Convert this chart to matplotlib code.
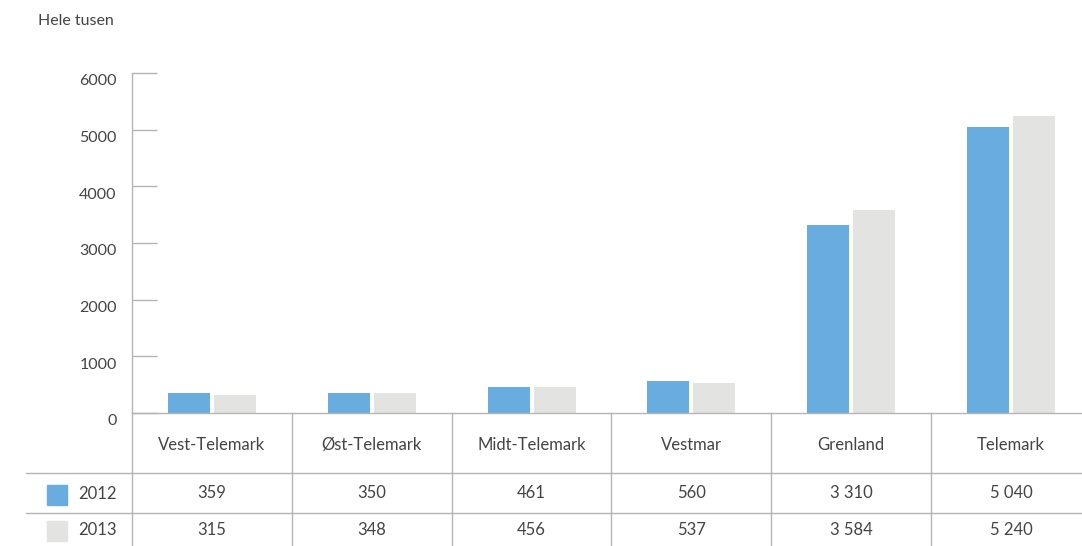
import matplotlib
matplotlib.use('Agg')
import matplotlib.pyplot as plt
from matplotlib.transforms import blended_transform_factory, ScaledTranslation
import numpy as np

plt.rcParams['font.family'] = ['Lato', 'DejaVu Sans']

# data
regions = ['Vest-Telemark', 'Øst-Telemark', 'Midt-Telemark', 'Vestmar', 'Grenland', 'Telemark']
years = ['2012', '2013']
vals_2012 = [359, 350, 461, 560, 3310, 5040]
vals_2013 = [315, 348, 456, 537, 3584, 5240]
yticks = [0, 1000, 2000, 3000, 4000, 5000, 6000]

blue = '#69ade0'
grey = '#e3e3e1'
line_c = '#b4b4b4'
txt_c = '#444444'

W, H = 1082, 546
fig = plt.figure(figsize=(W / 100, H / 100), dpi=100)

# overlay in pixel coords for the table grid
tab = fig.add_axes([0, 0, 1, 1])
tab.set_xlim(0, W)
tab.set_ylim(H, 0)
tab.axis('off')

col_w = 159.8
x0, y_top, y_base = 132, 73, 413
ncols = (W - x0) / col_w
ax = fig.add_axes([x0 / W, (H - y_base) / H, (W - x0) / W, (y_base - y_top) / H])
ax.set_xlim(0, ncols)
ax.set_ylim(0, 6000)

x = np.arange(len(regions)) + 0.5
bw = 42 / col_w
gap = 4 / col_w
ax.bar(x - (bw + gap) / 2, vals_2012, bw, color=blue, zorder=3)
ax.bar(x + (bw + gap) / 2, vals_2013, bw, color=grey, zorder=3)

for s in ['top', 'right', 'bottom']:
    ax.spines[s].set_visible(False)
ax.spines['left'].set_color(line_c)
ax.spines['left'].set_linewidth(1)
ax.set_xticks([])
ax.set_yticks(yticks)
ax.set_yticklabels([str(t) for t in yticks])
ax.tick_params(axis='y', direction='in', length=18, width=1, color=line_c,
               labelsize=11.5, labelcolor=txt_c, pad=11)
# labels sit a little below their tick
off = ScaledTranslation(0, -5 / 72, fig.dpi_scale_trans)
for lab in ax.get_yticklabels():
    lab.set_transform(lab.get_transform() + off)
ax.axhline(0, color=line_c, lw=1, zorder=4, clip_on=False)

# table grid
tab.plot([x0, x0], [y_base, H], color=line_c, lw=1)
for i in range(1, len(regions)):
    xs = x0 + i * col_w
    tab.plot([xs, xs], [y_base, H], color=line_c, lw=1)
for yy in [473, 513]:
    tab.plot([26, W], [yy, yy], color=line_c, lw=1)

tr = blended_transform_factory(ax.transData, tab.transData)
for i, r in enumerate(regions):
    ax.text(x[i], 445, r, transform=tr, ha='center', va='center',
            fontsize=12, color=txt_c)
    ax.text(x[i], 493, f"{vals_2012[i]:,}".replace(',', ' '), transform=tr,
            ha='center', va='center', fontsize=12, color=txt_c)
    ax.text(x[i], 530, f"{vals_2013[i]:,}".replace(',', ' '), transform=tr,
            ha='center', va='center', fontsize=12, color=txt_c)

# legend inside the table
for yy, c, lab in [(495, blue, years[0]), (531, grey, years[1])]:
    tab.add_patch(plt.Rectangle((47, yy - 10), 20, 20, color=c))
    tab.text(78, yy - 1, lab, ha='left', va='center', fontsize=12, color=txt_c)

tab.text(38, 21, 'Hele tusen', ha='left', va='center', fontsize=11.5, color=txt_c)

fig.savefig('out.png', dpi=100)
